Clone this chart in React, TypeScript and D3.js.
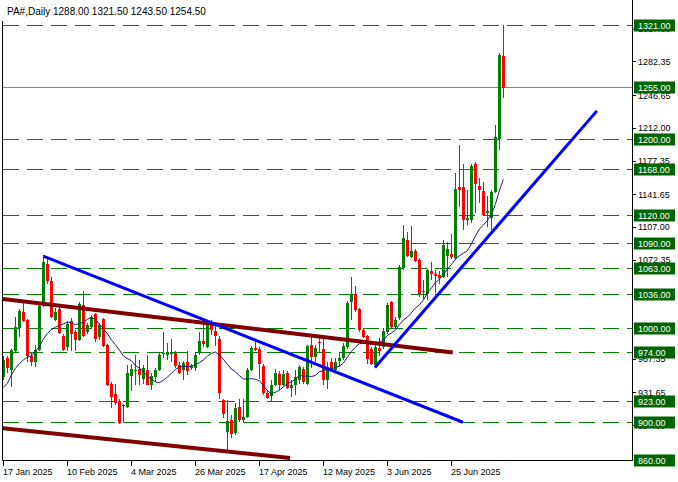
import React from 'react';
import * as d3 from 'd3';

const W = 678;
const H = 482;

const title = 'PA#,Daily  1288.00 1321.50 1243.50 1254.50';

const opens = [948,968,955,976,1000,1017,1008,970,964,977,1023,1068,1050,1008,1020,991,980,1007,996,987,1024,996,1001,1015,990,1009,982,941,930,923,917,916,949,954,956,946,955,940,948,955,972,971,972,973,961,955,964,958,957,974,986,980,1004,997,988,924,890,902,889,916,902,906,955,979,978,960,931,928,940,951,940,952,936,940,945,956,941,982,969,985,978,945,964,955,965,968,980,1027,1036,1020,998,991,978,961,979,980,996,1027,1001,1010,1063,1093,1075,1082,1072,1038,1036,1060,1057,1056,1054,1076,1078,1074,1149,1149,1114,1114,1174,1150,1145,1122,1116,1144,1200,1288];
const highs = [970,970,978,1012,1020,1028,1009,973,982,1024,1077,1075,1054,1021,1022,994,1007,1010,998,1027,1039,1005,1014,1016,1005,1010,983,943,941,925,919,961,962,971,966,961,971,952,958,973,996,984,988,975,964,965,975,962,973,996,1005,1005,1008,1005,991,925,924,908,920,925,925,957,981,985,980,962,934,945,956,954,955,954,945,955,961,959,982,992,982,991,991,964,968,968,973,984,1028,1054,1044,1021,1000,992,980,982,989,1000,1026,1028,1012,1067,1109,1102,1108,1084,1074,1051,1062,1070,1061,1060,1093,1091,1100,1164,1194,1174,1146,1174,1176,1159,1155,1140,1146,1215,1291,1321.5];
const lows = [945,952,937,973,990,1006,964,960,959,976,1022,1047,1010,1007,994,976,975,975,976,986,990,994,999,985,987,980,938,915,918,898,900,915,933,940,940,941,939,934,943,954,968,966,964,958,951,945,950,955,954,971,980,979,992,981,925,905,871,883,886,900,900,905,954,975,946,929,925,923,938,934,938,935,927,929,941,941,940,957,964,973,940,935,955,954,959,966,978,1008,1017,996,989,962,961,959,970,978,994,1000,999,1008,1061,1075,1074,1070,1033,1031,1030,1051,1037,1047,1053,1054,1073,1072,1128,1104,1109,1111,1122,1132,1120,1107,1104,1143,1188,1243.5];
const closes = [966,957,977,1001,1018,1007,970,964,977,1023,1070,1050,1012,1017,995,977,1004,994,987,1025,991,1003,1012,988,1003,981,939,927,920,899,918,952,956,955,950,957,940,949,955,971,973,974,974,960,952,963,954,960,971,986,983,1003,998,991,931,909,901,888,915,902,906,955,979,977,962,931,926,940,952,940,951,936,940,948,959,943,981,969,979,984,945,959,957,964,968,981,1026,1035,1019,998,990,967,962,980,976,997,1024,1001,1008,1065,1095,1076,1082,1071,1036,1039,1061,1057,1055,1053,1088,1084,1075,1147,1146,1114,1116,1172,1153,1146,1120,1124,1144,1202,1289,1254.5];

// moving average values for the first bars (window not yet full)
const maHead = [937,941,950,957,962,966,969,970,975,980,988,994,998];
const maPeriod = 14;

const levels = [1321,1255,1200,1168,1120,1090,1063,1036,1000,974,923,900,860];
const bidPrice = 1255;
const priceTicks = [1317.0,1282.35,1246.65,1212.0,1177.35,1141.65,1107.0,1072.35,967.35,931.65,897.0];

const dateLabels = ['17 Jan 2025','10 Feb 2025','4 Mar 2025','26 Mar 2025','17 Apr 2025','12 May 2025','3 Jun 2025','25 Jun 2025'];
const dateIndex = [0,16,32,48,64,80,96,112];

// trend lines as [barIndex, price] pairs
const blueLines: [number, number][][] = [
  [[10, 1076], [114.9, 900]],
  [[92.9, 958], [148.4, 1230]],
];
const maroonLines: [number, number][][] = [
  [[-0.83, 1031], [112.35, 974]],
  [[-0.83, 894], [71.7, 862]],
];

const PL = 2.5, PR = 632.5, PT = 0, PB = 460.5;

export default function App() {
  const x = d3.scaleLinear().domain([0, 125]).range([3.3, 503.3]);
  const y = d3.scaleLinear().domain([860, 1321]).range([460, 25]);

  const ma: number[] = closes.map((c, i) => {
    if (i < maHead.length) return maHead[i];
    const win = closes.slice(i - maPeriod + 1, i + 1);
    return d3.mean(win) as number;
  });
  const maLine = d3.line<number>().x((_, i) => x(i)).y(d => y(d))(ma) || '';
  const seg = d3.line<[number, number]>().x(d => x(d[0])).y(d => y(d[1]));

  const font = "'Liberation Sans', Arial, sans-serif";

  return (
    <svg width={W} height={H} style={{ position: 'absolute', left: 0, top: 0, background: '#fff' }}
      xmlns="http://www.w3.org/2000/svg">
      <defs>
        <clipPath id="plot"><rect x={3} y={0} width={629} height={460.5} /></clipPath>
      </defs>
      <rect x={0} y={0} width={W} height={H} fill="#ffffff" />

      {/* level lines */}
      <g clipPath="url(#plot)">
        {levels.filter(l => l !== bidPrice).map(l => (
          <line key={l} x1={3} x2={632} y1={Math.round(y(l)) + 0.5} y2={Math.round(y(l)) + 0.5}
            stroke="#008000" strokeWidth={1} strokeDasharray="16 8" />
        ))}
        <line x1={3} x2={632} y1={Math.round(y(bidPrice)) + 0.5} y2={Math.round(y(bidPrice)) + 0.5}
          stroke="#778899" strokeWidth={1} />
      </g>

      {/* candles */}
      <g clipPath="url(#plot)" shapeRendering="crispEdges">
        {closes.map((c, i) => {
          const o = opens[i];
          const col = c >= o ? '#008000' : '#ff0000';
          const cx = Math.round(x(i));
          const top = y(Math.max(o, c));
          const bot = y(Math.min(o, c));
          return (
            <g key={i}>
              <line x1={cx + 0.5} x2={cx + 0.5} y1={y(highs[i])} y2={y(lows[i])} stroke={col} strokeWidth={1} />
              <rect x={cx - 1} y={top} width={3} height={Math.max(1, bot - top)} fill={col} />
            </g>
          );
        })}
      </g>

      {/* moving average and trend lines */}
      <g clipPath="url(#plot)">
        <path d={maLine} fill="none" stroke="#191970" strokeWidth={1} />
        {maroonLines.map((l, k) => (
          <path key={'m' + k} d={seg(l) || ''} fill="none" stroke="#800000" strokeWidth={4} />
        ))}
        {blueLines.map((l, k) => (
          <path key={'b' + k} d={seg(l) || ''} fill="none" stroke="#0000ff" strokeWidth={3} />
        ))}
      </g>

      {/* frame */}
      <line x1={PL} x2={PL} y1={21} y2={PB} stroke="#000" strokeWidth={1} />
      <line x1={PR} x2={PR} y1={PT} y2={PB + 0.5} stroke="#000" strokeWidth={1} />
      <line x1={PL} x2={PR} y1={PB} y2={PB} stroke="#000" strokeWidth={1} />

      {/* price axis */}
      <g fontFamily={font} fontSize={9} fill="#000">
        {priceTicks.map(t => (
          <g key={t}>
            <line x1={632} x2={636} y1={Math.round(y(t)) + 0.5} y2={Math.round(y(t)) + 0.5} stroke="#000" />
            <text x={638} y={y(t) + 3.5}>{t.toFixed(2)}</text>
          </g>
        ))}
      </g>

      {/* level labels */}
      <g fontFamily={font} fontSize={9}>
        {levels.map(l => (
          <g key={l}>
            <rect x={634} y={Math.round(y(l)) - 5.5} width={41} height={12} fill="#006400" />
            <text x={638} y={Math.round(y(l)) + 4} fill="#ffffff">{l.toFixed(2)}</text>
          </g>
        ))}
      </g>

      {/* time axis */}
      <g fontFamily={font} fontSize={9} fill="#000">
        {dateIndex.map((d, k) => (
          <g key={d}>
            <line x1={Math.round(x(d)) + 0.5} x2={Math.round(x(d)) + 0.5} y1={461} y2={466} stroke="#000" />
            <text x={Math.round(x(d))} y={475}>{dateLabels[k]}</text>
          </g>
        ))}
      </g>

      {/* title */}
      <text x={7} y={15} fontFamily={font} fontSize={10} fill="#000">{title}</text>
    </svg>
  );
}
